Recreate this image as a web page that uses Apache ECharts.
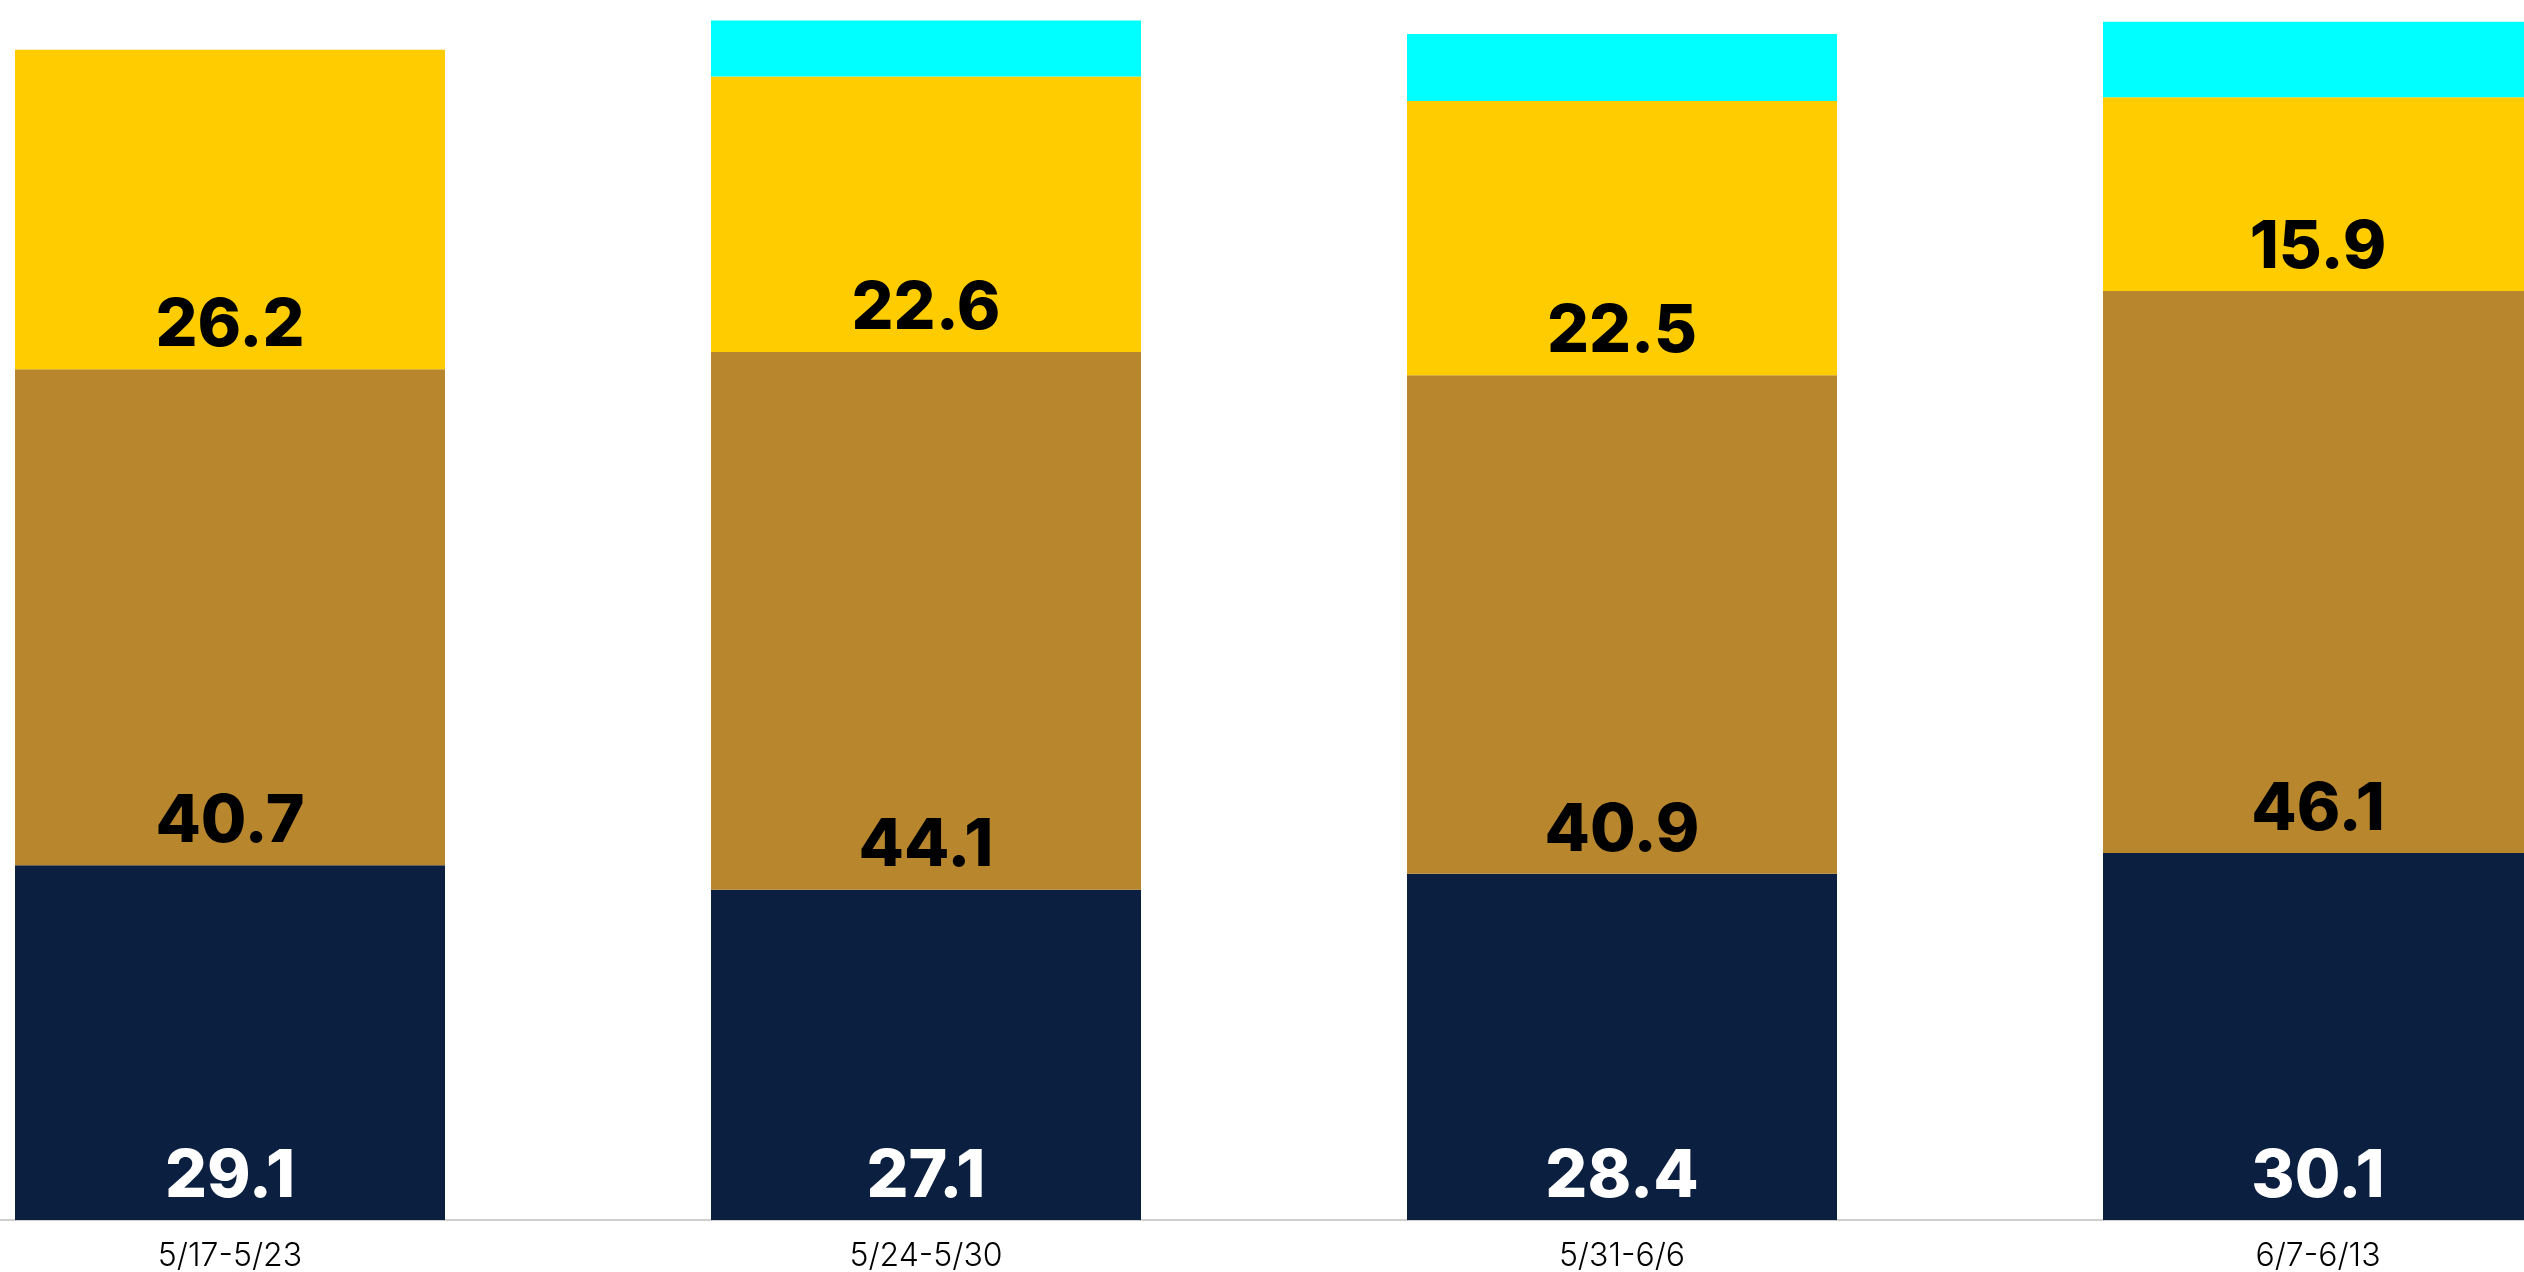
<!DOCTYPE html>
<html>
<head>
<meta charset="utf-8">
<script src="https://cdn.jsdelivr.net/npm/echarts@6/dist/echarts.min.js"></script>
<style>
	html, body { margin: 0; padding: 0; background: #fff; overflow: hidden; }
	/* 图表比窗口宽，左右两侧被裁掉一部分 */
	#weekChart { width: 2784px; height: 1272px; margin-left: -118px; }
</style>
</head>
<body>
<div id="weekChart"></div>
<script>
//周次
var weeks = ['5/17-5/23', '5/24-5/30', '5/31-6/6', '6/7-6/13'];
//各段数值（自下而上）
var navyValues = [29.1, 27.1, 28.4, 30.1];
var brownValues = [40.7, 44.1, 40.9, 46.1];
var yellowValues = [26.2, 22.6, 22.5, 15.9];
var cyanValues = [0, 4.6, 5.5, 6.2];

var labelFont = 'Inter';

function barLabel(color) {
	return {
		show: true,
		position: 'insideBottom',
		distance: 10,
		color: color,
		fontFamily: labelFont,
		fontWeight: 800,
		fontSize: 66
	};
}

var weekChart = echarts.init(document.getElementById('weekChart'));
var option = {
	animation: false,
	grid: {
		left: 0,
		right: 0,
		top: 1,
		bottom: 51
	},
	xAxis: {
		type: 'category',
		data: weeks,
		axisLine: {
			lineStyle: { color: '#cfcfcf', width: 2 }
		},
		axisTick: { show: false },
		axisLabel: {
			color: '#000',
			fontFamily: labelFont,
			fontWeight: 300,
			fontSize: 32,
			margin: 20
		}
	},
	yAxis: {
		type: 'value',
		min: 0,
		max: 100,
		show: false,
		splitLine: { show: false }
	},
	series: [
		{
			name: 'navy',
			type: 'bar',
			stack: 'total',
			barWidth: 430,
			itemStyle: { color: '#0b1f40' },
			label: barLabel('#fff'),
			data: navyValues
		},
		{
			name: 'brown',
			type: 'bar',
			stack: 'total',
			itemStyle: { color: '#b8862d' },
			label: barLabel('#000'),
			data: brownValues
		},
		{
			name: 'yellow',
			type: 'bar',
			stack: 'total',
			itemStyle: { color: '#ffcc00' },
			label: barLabel('#000'),
			data: yellowValues
		},
		{
			name: 'cyan',
			type: 'bar',
			stack: 'total',
			itemStyle: { color: '#00ffff' },
			label: { show: false },
			data: cyanValues
		}
	]
};
weekChart.setOption(option);
</script>
</body>
</html>
